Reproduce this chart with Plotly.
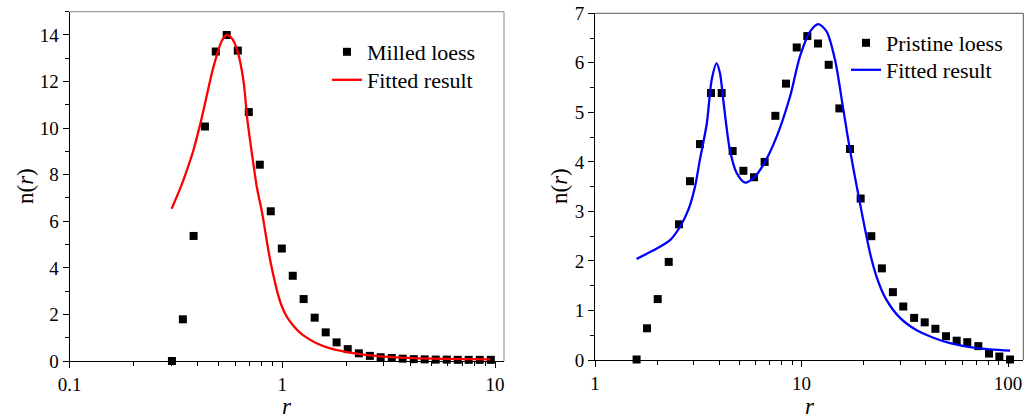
import plotly.graph_objects as go

# ---------------- Left panel: milled loess ----------------
milled_r = [0.303, 0.341, 0.383, 0.433, 0.487, 0.548, 0.618, 0.696, 0.784, 0.883,
            0.995, 1.12, 1.26, 1.42, 1.60, 1.80, 2.03, 2.29, 2.58, 2.90,
            3.27, 3.68, 4.15, 4.67, 5.26, 5.93, 6.68, 7.52, 8.47, 9.55]
milled_n = [0.0, 1.79, 5.37, 10.07, 13.29, 14.0, 13.33, 10.69, 8.43, 6.43,
            4.83, 3.66, 2.66, 1.86, 1.23, 0.80, 0.51, 0.33, 0.22, 0.16,
            0.13, 0.10, 0.08, 0.07, 0.06, 0.06, 0.05, 0.05, 0.05, 0.05]

milled_fit_r = [0.302, 0.331, 0.356, 0.382, 0.411, 0.426, 0.474, 0.520, 0.548, 0.580,
                0.615, 0.657, 0.686, 0.731, 0.759, 0.801, 0.830, 0.870, 0.915, 0.955,
                0.995, 1.05, 1.12, 1.21, 1.33, 1.45, 1.65, 2.01, 2.50, 2.88,
                4.13, 5.93, 9.49]
milled_fit_n = [6.54, 7.40, 8.19, 9.04, 10.15, 10.76, 12.60, 13.75, 14.0, 13.85,
                13.33, 12.04, 10.33, 8.48, 7.47, 6.44, 5.61, 4.50, 3.55, 2.85,
                2.35, 1.90, 1.55, 1.22, 0.95, 0.76, 0.56, 0.38, 0.25, 0.20,
                0.12, 0.09, 0.07]

# ---------------- Right panel: pristine loess ----------------
pristine_r = [1.59, 1.786, 2.012, 2.275, 2.552, 2.884, 3.225, 3.645, 4.107, 4.64,
              5.23, 5.89, 6.63, 7.47, 8.41, 9.48, 10.67, 12.02, 13.54, 15.25,
              17.17, 19.34, 21.78, 24.5, 27.7, 31.1, 35.1, 39.5, 44.5, 50.1,
              56.4, 63.5, 71.8, 80.9, 90.8, 102.3]
pristine_n = [0.01, 0.64, 1.23, 1.98, 2.74, 3.61, 4.36, 5.39, 5.39, 4.22,
              3.82, 3.69, 4.00, 4.93, 5.58, 6.31, 6.54, 6.39, 5.96, 5.08,
              4.26, 3.26, 2.50, 1.85, 1.37, 1.08, 0.85, 0.76, 0.63, 0.48,
              0.39, 0.36, 0.28, 0.13, 0.07, 0.01]

pristine_fit_r = [1.59, 1.99, 2.31, 2.58, 2.83, 3.05, 3.22, 3.48, 3.67, 3.88,
                  4.03, 4.18, 4.50, 4.86, 5.33, 5.84, 6.53, 7.58, 8.80, 9.83,
                  11.0, 12.06, 13.24, 14.53, 15.95, 17.17, 19.2, 21.5, 23.1, 25.5,
                  30.0, 36.1, 43.5, 52.4, 70.5, 102.3]
pristine_fit_n = [2.04, 2.25, 2.42, 2.69, 3.03, 3.50, 4.04, 4.78, 5.65, 5.99,
                  5.79, 5.25, 4.24, 3.77, 3.58, 3.67, 3.94, 4.51, 5.32, 6.13,
                  6.63, 6.78, 6.63, 6.06, 5.05, 4.24, 3.16, 2.15, 1.68, 1.25,
                  0.85, 0.60, 0.45, 0.34, 0.24, 0.19]

left_xticks = [0.1, 1, 10]
left_xticktext = ["0.1", "1", "10"]
left_xminor = [0.2, 0.3, 0.4, 0.5, 0.6, 0.7, 0.8, 0.9, 2, 3, 4, 5, 6, 7, 8, 9]
right_xticks = [1, 10, 100]
right_xticktext = ["1", "10", "100"]
right_xminor = [2, 3, 4, 5, 6, 7, 8, 9, 20, 30, 40, 50, 60, 70, 80, 90]

FONT = "Liberation Serif"
W, H = 1024, 414

fig = go.Figure()
fig.add_trace(go.Scatter(x=milled_r, y=milled_n, mode="markers", name="Milled loess",
                         marker=dict(symbol="square", size=8, color="black"),
                         xaxis="x", yaxis="y", legend="legend", cliponaxis=False))
fig.add_trace(go.Scatter(x=milled_fit_r, y=milled_fit_n, mode="lines", name="Fitted result",
                         line=dict(color="#ff0000", width=2.3, shape="spline", smoothing=0.8),
                         xaxis="x", yaxis="y", legend="legend2"))
fig.add_trace(go.Scatter(x=pristine_r, y=pristine_n, mode="markers", name="Pristine loess",
                         marker=dict(symbol="square", size=8, color="black"),
                         xaxis="x2", yaxis="y2", legend="legend3", cliponaxis=False))
fig.add_trace(go.Scatter(x=pristine_fit_r, y=pristine_fit_n, mode="lines", name="Fitted result",
                         line=dict(color="#0000ff", width=2.3, shape="spline", smoothing=0.8),
                         xaxis="x2", yaxis="y2", legend="legend4"))

tickfont = dict(family=FONT, size=19, color="black")
common_axis = dict(showline=True, linecolor="black", linewidth=1, ticks="outside",
                   tickcolor="black", tickwidth=1, ticklen=6, showgrid=False,
                   zeroline=False, tickfont=tickfont, mirror=False, automargin=False)

legend_font = dict(family=FONT, size=22, color="black")


def legend_at(px_x, px_y):
    return dict(x=px_x / W, y=1 - px_y / H, xanchor="left", yanchor="middle",
                font=legend_font, bgcolor="rgba(0,0,0,0)", borderwidth=0,
                tracegroupgap=0, itemsizing="trace")


fig.update_layout(
    template="none",
    width=W, height=H, autosize=False,
    margin=dict(l=0, r=0, t=0, b=0, pad=0),
    paper_bgcolor="white", plot_bgcolor="white",
    font=dict(family=FONT, color="black"),
    xaxis=dict(type="log", range=[-1, 1.042], domain=[69.5 / W, 504 / W], anchor="y",
               tickmode="array", tickvals=left_xticks, ticktext=left_xticktext,
               minor=dict(tickvals=left_xminor, ticks="outside", ticklen=4,
                          tickcolor="black", tickwidth=1, showgrid=False),
               **common_axis),
    yaxis=dict(range=[0, 15], domain=[1 - 361 / H, 1 - 11.7 / H], anchor="x",
               dtick=2, tick0=0,
               minor=dict(dtick=1, ticks="outside", ticklen=4, tickcolor="black",
                          tickwidth=1, showgrid=False),
               **common_axis),
    xaxis2=dict(type="log", range=[0, 2.074], domain=[595 / W, 1023.3 / W], anchor="y2",
                tickmode="array", tickvals=right_xticks, ticktext=right_xticktext,
                minor=dict(tickvals=right_xminor, ticks="outside", ticklen=4,
                           tickcolor="black", tickwidth=1, showgrid=False),
                **common_axis),
    yaxis2=dict(range=[0, 7], domain=[1 - 360 / H, 1 - 13.3 / H], anchor="x2",
                dtick=1, tick0=0,
                minor=dict(dtick=0.5, ticks="outside", ticklen=4, tickcolor="black",
                           tickwidth=1, showgrid=False),
                **common_axis),
    legend=legend_at(327, 52),
    legend2=legend_at(327, 80),
    legend3=legend_at(846, 43),
    legend4=legend_at(846, 70),
    showlegend=True,
)

# frame lines (top and right) of each panel
for xr, yr, col in [("x domain", "y domain", "#8a8a8a"), ("x2 domain", "y2 domain", "#555555")]:
    fig.add_shape(type="line", xref=xr, yref=yr, x0=0, x1=1, y0=1, y1=1,
                  line=dict(color=col, width=1))
    fig.add_shape(type="line", xref=xr, yref=yr, x0=1, x1=1, y0=0, y1=1,
                  line=dict(color=col, width=1))

# axis titles
title_font = dict(family=FONT, size=23, color="black")
fig.add_annotation(text="n(<i>r</i>)", xref="paper", yref="paper", x=25 / W, y=1 - 186 / H,
                   textangle=-90, showarrow=False, font=title_font, xanchor="center", yanchor="middle")
fig.add_annotation(text="n(<i>r</i>)", xref="paper", yref="paper", x=559 / W, y=1 - 186 / H,
                   textangle=-90, showarrow=False, font=title_font, xanchor="center", yanchor="middle")
fig.add_annotation(text="<i>r</i>", xref="paper", yref="paper", x=287 / W, y=1 - 406 / H,
                   showarrow=False, font=title_font, xanchor="center", yanchor="middle")
fig.add_annotation(text="<i>r</i>", xref="paper", yref="paper", x=810 / W, y=1 - 406 / H,
                   showarrow=False, font=title_font, xanchor="center", yanchor="middle")

fig.write_html("out.html", config={"displayModeBar": False},
               post_script="document.body.style.margin='0px';")
